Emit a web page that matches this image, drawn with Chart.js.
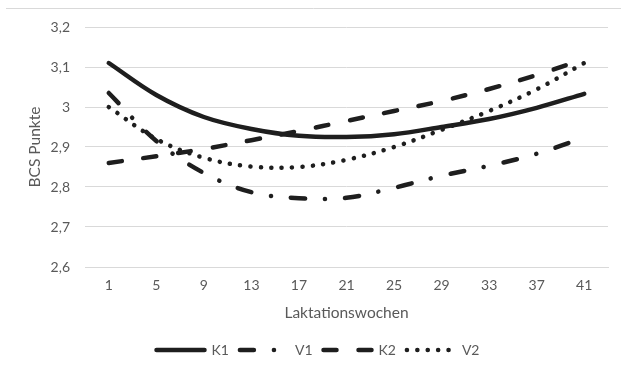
<!DOCTYPE html>
<html>
<head>
<meta charset="utf-8">
<script src="https://cdn.jsdelivr.net/npm/chart.js@4"></script>
<style>
    body { margin: 0; background: #fff; }
    #box { width: 621px; height: 383px; }
</style>
</head>
<body>
<div id="box"><canvas id="myChartBCS"></canvas></div>
<script>

// Laktationswochen und BCS-Verlauf der vier Gruppen
var wochen = ['1', '5', '9', '13', '17', '21', '25', '29', '33', '37', '41'];
var bcsK1 = [3.11, 3.03, 2.975, 2.945, 2.928, 2.925, 2.932, 2.95, 2.97, 2.998, 3.033];
var bcsV1 = [3.035, 2.915, 2.835, 2.787, 2.772, 2.773, 2.798, 2.828, 2.853, 2.883, 2.924];
var bcsK2 = [2.86, 2.877, 2.895, 2.917, 2.94, 2.965, 2.99, 3.015, 3.045, 3.08, 3.12];
var bcsV2 = [3.0, 2.92, 2.873, 2.851, 2.85, 2.868, 2.9, 2.943, 2.99, 3.044, 3.11];

var schrift = 'Lato, "Open Sans", sans-serif';
var grau = '#595959';
var linie = '#1e1e1e';

function serie(name, werte, dash) {
    return {
        label: name,
        data: werte,
        borderColor: linie,
        backgroundColor: linie,
        borderWidth: 4.5,
        borderDash: dash,
        borderCapStyle: 'round',
        pointRadius: 0,
        tension: 0.35,
        fill: false
    };
}

// obere Rahmenlinie, Legende etwas nach rechts
const rahmen = {
    id: 'rahmen',
    afterLayout(chart) {
        chart.legend.left += 14;
        chart.legend.right += 14;
    },
    beforeDraw(chart) {
        const ctx = chart.ctx;
        ctx.save();
        ctx.strokeStyle = '#d9d9d9';
        ctx.lineWidth = 1;
        ctx.beginPath();
        ctx.moveTo(6, 8.5);
        ctx.lineTo(621, 8.5);
        ctx.stroke();
        ctx.restore();
    }
};

const ctxBCS = document.getElementById('myChartBCS');

var myChartBCS = new Chart(ctxBCS, {
    type: 'line',
    data: {
        labels: wochen,
        datasets: [
            serie('K1', bcsK1, []),
            serie('V1', bcsV1, [14, 20, 0.1, 20]),
            serie('K2', bcsK2, [13, 22]),
            serie('V2', bcsV2, [0.1, 10.3])
        ]
    },
    options: {
        responsive: true,
        maintainAspectRatio: false,
        animation: false,
        layout: {
            padding: { top: 27, right: 13, bottom: 16, left: 0 }
        },
        scales: {
            y: {
                min: 2.6,
                max: 3.2,
                ticks: {
                    stepSize: 0.1,
                    padding: 15,
                    color: grau,
                    font: { family: schrift, size: 14 },
                    callback: function (v) {
                        return String(Math.round(v * 10) / 10).replace('.', ',');
                    }
                },
                grid: {
                    color: '#d9d9d9',
                    drawTicks: false
                },
                border: { display: false },
                title: {
                    display: true,
                    text: 'BCS Punkte',
                    color: grau,
                    font: { family: schrift, size: 15.5 },
                    padding: { top: 26, bottom: 0 }
                },
                afterFit: function (scale) {
                    scale.width = 85;
                }
            },
            x: {
                offset: true,
                ticks: {
                    padding: 10,
                    color: grau,
                    font: { family: schrift, size: 14 },
                    maxRotation: 0
                },
                grid: {
                    display: false,
                    drawTicks: false
                },
                border: { color: '#d9d9d9' },
                title: {
                    display: true,
                    text: 'Laktationswochen',
                    color: grau,
                    font: { family: schrift, size: 15.5 },
                    padding: { top: 0, bottom: 10 }
                },
                afterFit: function (scale) {
                    scale.height = 65;
                }
            }
        },
        plugins: {
            legend: {
                position: 'bottom',
                labels: {
                    usePointStyle: true,
                    pointStyle: 'line',
                    pointStyleWidth: 48,
                    color: grau,
                    padding: 11,
                    font: { family: schrift, size: 14 },
                    // Linienmuster der Datensätze in die Legende übernehmen
                    generateLabels: function (chart) {
                        var items = Chart.defaults.plugins.legend.labels.generateLabels(chart);
                        items.forEach(function (item) {
                            var ds = chart.data.datasets[item.datasetIndex];
                            item.lineDash = ds.borderDash;
                            item.lineCap = ds.borderCapStyle;
                            item.lineWidth = ds.borderWidth;
                            item.strokeStyle = ds.borderColor;
                            item.fillStyle = ds.borderColor;
                        });
                        return items;
                    }
                }
            },
            tooltip: { enabled: false }
        }
    },
    plugins: [rahmen]
});

</script>
</body>
</html>
